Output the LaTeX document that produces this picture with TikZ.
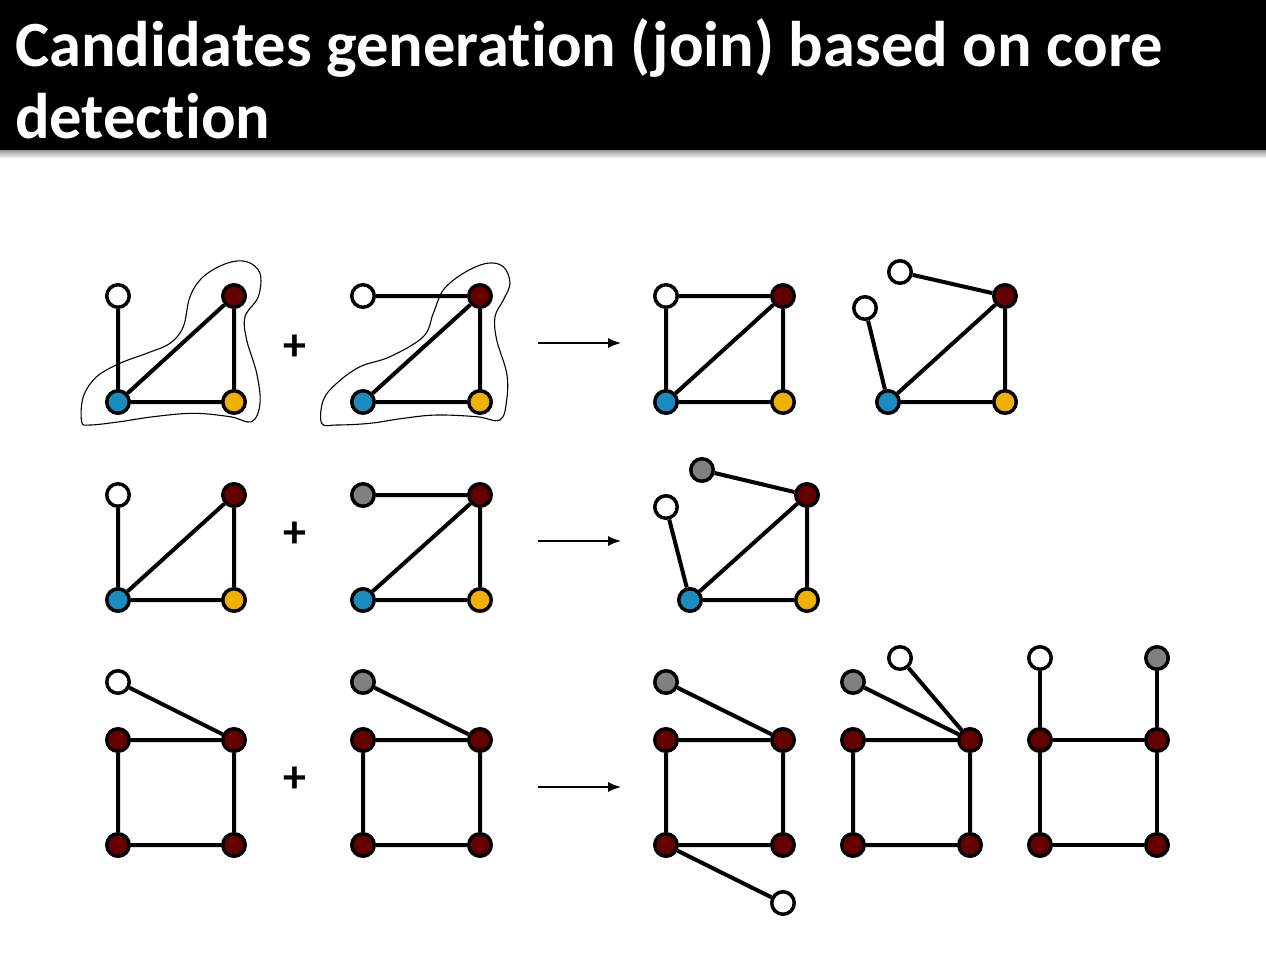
\documentclass[tikz,border=0pt]{standalone}
\usepackage{fontspec}
\setmainfont{Carlito}[Ligatures=NoCommon]
\usetikzlibrary{arrows.meta}
\definecolor{dred}{HTML}{660000}
\definecolor{nblue}{HTML}{1A8CBF}
\definecolor{nyellow}{HTML}{F0B000}
\definecolor{ngray}{HTML}{808080}
\begin{document}
\begin{tikzpicture}[x=1pt,y=-1pt,
  vtx/.style={circle,draw=black,line width=3.5pt,minimum size=22.5pt,inner sep=0pt},
  wv/.style={vtx,fill=white},
  rv/.style={vtx,fill=dred},
  bv/.style={vtx,fill=nblue},
  yv/.style={vtx,fill=nyellow},
  gv/.style={vtx,fill=ngray},
  ed/.style={line width=4pt,black},
  blob/.style={line width=1.1pt,black},
  plus/.style={font=\fontsize{46}{46}\selectfont\bfseries,inner sep=0pt},
  arr/.style={line width=1.4pt,-{Latex[length=13pt,width=10pt]}},
  title/.style={text=white,font=\fontsize{64.5}{72}\selectfont\bfseries,align=left,anchor=north west,inner sep=0pt}]
\useasboundingbox (0,0) rectangle (1266,954);
\fill[white] (0,0) rectangle (1266,954);
% title bar
\fill[black] (0,0) rectangle (1266,150);
\shade[top color=gray!80,bottom color=gray!15] (0,150) rectangle (1266,157);
\node[title] (t) at (15,18) {Candidates generation (join) based on core\\detection};

% blobs
\draw[blob] plot[smooth cycle,tension=0.6] coordinates {(81.7,421.7) (83.3,396.7) (96.7,376.7) (120,363.3) (146.7,353.3) (170,343.3) (183.3,326.7) (190,296.7) (203.3,276.7) (226.7,263.3) (246.7,261.7) (260,273.3) (258.3,296.7) (245,316.7) (246.7,340) (256.7,373.3) (260,403.3) (251.7,421.7) (230,416.7) (193.3,413.3) (153.3,416.7) (120,421.7) (90,425)};
\draw[blob,xshift=245pt] plot[smooth cycle,tension=0.6] coordinates {(76.7,423.3) (78.3,400) (91.7,383.3) (115,366.7) (145,356.7) (178.3,336.7) (188.3,313.3) (198.3,290) (218.3,273.3) (241.7,263.3) (258.3,266.7) (265,283.3) (258.3,300) (250,316.7) (251.7,340) (261.7,373.3) (261.7,400) (255,420) (231.7,416.7) (191.7,415) (158.3,418.3) (125,423.3) (91.7,425)};

% ===== Row 1 =====
\node[wv] (a1w) at (118,296) {};
\node[rv] (a1r) at (234,296) {};
\node[bv] (a1b) at (118,402) {};
\node[yv] (a1y) at (234,402) {};
\draw[ed] (a1w) -- (a1b) (a1b) -- (a1r) (a1r) -- (a1y) (a1b) -- (a1y);

\node[plus] (p1) at (295,348) {+};

\node[wv] (b1w) at (363,296) {};
\node[rv] (b1r) at (480,296) {};
\node[bv] (b1b) at (363,402) {};
\node[yv] (b1y) at (480,402) {};
\draw[ed] (b1w) -- (b1r) (b1b) -- (b1r) (b1r) -- (b1y) (b1b) -- (b1y);

\coordinate (r1s) at (538,343);
\coordinate (r1e) at (621,343);
\draw[arr] (r1s) -- (r1e);

\node[wv] (c1w) at (666,296) {};
\node[rv] (c1r) at (783,296) {};
\node[bv] (c1b) at (666,402) {};
\node[yv] (c1y) at (783,402) {};
\draw[ed] (c1w) -- (c1r) (c1w) -- (c1b) (c1b) -- (c1r) (c1r) -- (c1y) (c1b) -- (c1y);

\node[wv] (d1w) at (900,272) {};
\node[wv] (d1u) at (865,308) {};
\node[rv] (d1r) at (1005,296) {};
\node[bv] (d1b) at (888,402) {};
\node[yv] (d1y) at (1005,402) {};
\draw[ed] (d1w) -- (d1r) (d1u) -- (d1b) (d1b) -- (d1r) (d1r) -- (d1y) (d1b) -- (d1y);

% ===== Row 2 =====
\node[wv] (a2w) at (118,495) {};
\node[rv] (a2r) at (234,495) {};
\node[bv] (a2b) at (118,600) {};
\node[yv] (a2y) at (234,600) {};
\draw[ed] (a2w) -- (a2b) (a2b) -- (a2r) (a2r) -- (a2y) (a2b) -- (a2y);

\node[plus] (p2) at (295,535) {+};

\node[gv] (b2g) at (363,495) {};
\node[rv] (b2r) at (480,495) {};
\node[bv] (b2b) at (363,600) {};
\node[yv] (b2y) at (480,600) {};
\draw[ed] (b2g) -- (b2r) (b2b) -- (b2r) (b2r) -- (b2y) (b2b) -- (b2y);

\coordinate (r2s) at (538,541);
\coordinate (r2e) at (621,541);
\draw[arr] (r2s) -- (r2e);

\node[gv] (c2g) at (702,470) {};
\node[wv] (c2w) at (666,507) {};
\node[rv] (c2r) at (807,495) {};
\node[bv] (c2b) at (690,600) {};
\node[yv] (c2y) at (807,600) {};
\draw[ed] (c2g) -- (c2r) (c2w) -- (c2b) (c2b) -- (c2r) (c2r) -- (c2y) (c2b) -- (c2y);

% ===== Row 3 =====
\node[wv] (a3w) at (118,682) {};
\node[rv] (a3tl) at (118,740) {};
\node[rv] (a3tr) at (234,740) {};
\node[rv] (a3bl) at (118,845) {};
\node[rv] (a3br) at (234,845) {};
\draw[ed] (a3w) -- (a3tr) (a3tl) -- (a3tr) (a3tl) -- (a3bl) (a3tr) -- (a3br) (a3bl) -- (a3br);

\node[plus] (p3) at (295,780) {+};

\node[gv] (b3g) at (363,682) {};
\node[rv] (b3tl) at (363,740) {};
\node[rv] (b3tr) at (480,740) {};
\node[rv] (b3bl) at (363,845) {};
\node[rv] (b3br) at (480,845) {};
\draw[ed] (b3g) -- (b3tr) (b3tl) -- (b3tr) (b3tl) -- (b3bl) (b3tr) -- (b3br) (b3bl) -- (b3br);

\coordinate (r3s) at (538,787);
\coordinate (r3e) at (621,787);
\draw[arr] (r3s) -- (r3e);

\node[gv] (c3g) at (666,682) {};
\node[rv] (c3tl) at (666,740) {};
\node[rv] (c3tr) at (783,740) {};
\node[rv] (c3bl) at (666,845) {};
\node[rv] (c3br) at (783,845) {};
\node[wv] (c3w) at (783,903) {};
\draw[ed] (c3g) -- (c3tr) (c3tl) -- (c3tr) (c3tl) -- (c3bl) (c3tr) -- (c3br) (c3bl) -- (c3br) (c3bl) -- (c3w);

\node[gv] (d3g) at (853,682) {};
\node[wv] (d3w) at (900,658) {};
\node[rv] (d3tl) at (853,740) {};
\node[rv] (d3tr) at (970,740) {};
\node[rv] (d3bl) at (853,845) {};
\node[rv] (d3br) at (970,845) {};
\draw[ed] (d3g) -- (d3tr) (d3w) -- (d3tr) (d3tl) -- (d3tr) (d3tl) -- (d3bl) (d3tr) -- (d3br) (d3bl) -- (d3br);

\node[wv] (e3w) at (1040,658) {};
\node[gv] (e3g) at (1157,658) {};
\node[rv] (e3tl) at (1040,740) {};
\node[rv] (e3tr) at (1157,740) {};
\node[rv] (e3bl) at (1040,845) {};
\node[rv] (e3br) at (1157,845) {};
\draw[ed] (e3w) -- (e3tl) (e3g) -- (e3tr) (e3tl) -- (e3tr) (e3tl) -- (e3bl) (e3tr) -- (e3br) (e3bl) -- (e3br);
\end{tikzpicture}
\end{document}
